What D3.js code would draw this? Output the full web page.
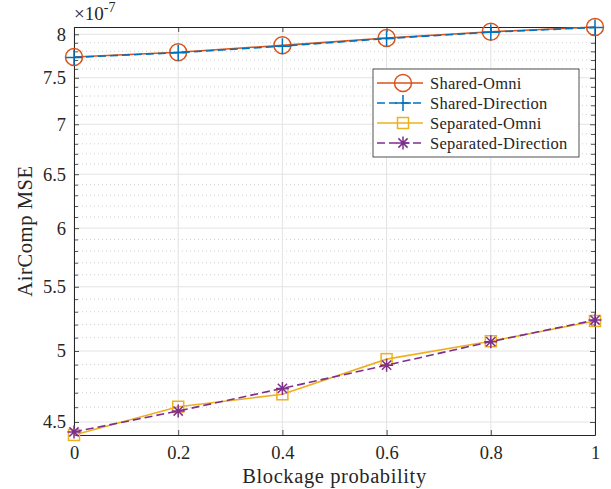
<!DOCTYPE html>
<html>
<head>
<meta charset="utf-8">
<script src="https://cdn.jsdelivr.net/npm/d3@7"></script>
<style>
  body { margin: 0; background: #fff; }
  svg text { font-family: "Liberation Serif", "Times New Roman", serif; fill: #262626; }
</style>
</head>
<body>
<svg id="chart" width="611" height="489"></svg>
<script>
// blockage probability
var probs = [0, 0.2, 0.4, 0.6, 0.8, 1];
// AirComp MSE, in units of 1e-7
var sharedOmni = [7.735, 7.79, 7.87, 7.956, 8.03, 8.087];
var sharedDirection = [7.73, 7.785, 7.86, 7.95, 8.025, 8.082];
var separatedOmni = [4.414, 4.603, 4.689, 4.94, 5.073, 5.228];
var separatedDirection = [4.434, 4.574, 4.73, 4.896, 5.07, 5.235];
var xTicks = [0, 0.2, 0.4, 0.6, 0.8, 1];
var yTicks = [4.5, 5, 5.5, 6, 6.5, 7, 7.5, 8];

var series = [
    {name: "Shared-Omni", values: sharedOmni, color: "#D95319", dash: null, marker: "circle"},
    {name: "Shared-Direction", values: sharedDirection, color: "#0072BD", dash: "8,4", marker: "plus"},
    {name: "Separated-Omni", values: separatedOmni, color: "#EDB120", dash: null, marker: "square"},
    {name: "Separated-Direction", values: separatedDirection, color: "#7E2F8E", dash: "8,4", marker: "star"}
];

var margin = {left: 74, right: 16, top: 27, bottom: 54};
var svg = d3.select("#chart");
var W = +svg.attr("width"), H = +svg.attr("height");
var w = W - margin.left - margin.right, h = H - margin.top - margin.bottom;

var all = [].concat(sharedOmni, sharedDirection, separatedOmni, separatedDirection);
var x = d3.scaleLinear().domain([0, 1]).range([0, w]);
var y = d3.scaleLog().domain(d3.extent(all)).range([h, 0]);

var g = svg.append("g").attr("transform", "translate(" + margin.left + "," + margin.top + ")");

// minor ticks every 0.1 between majors
var minor = d3.range(44, 81).map(function(v) { return v / 10; })
    .filter(function(v) {
        return v >= y.domain()[0] && v <= y.domain()[1] && yTicks.indexOf(v) < 0;
    });

// grid
g.selectAll(".mgrid").data(minor).enter().append("line")
    .attr("x1", 0).attr("x2", w)
    .attr("y1", function(d) { return y(d); }).attr("y2", function(d) { return y(d); })
    .attr("stroke", "#c4c4c4").attr("stroke-width", 0.8).attr("stroke-dasharray", "1,3");
g.selectAll(".ygrid").data(yTicks).enter().append("line")
    .attr("x1", 0).attr("x2", w)
    .attr("y1", function(d) { return y(d); }).attr("y2", function(d) { return y(d); })
    .attr("stroke", "#e3e3e3").attr("stroke-width", 1);
g.selectAll(".xgrid").data(xTicks).enter().append("line")
    .attr("y1", 0).attr("y2", h)
    .attr("x1", function(d) { return x(d); }).attr("x2", function(d) { return x(d); })
    .attr("stroke", "#e3e3e3").attr("stroke-width", 1);

// axes
var axisColor = "#262626";
var fmt = function(d) { return String(d); };
var xb = g.append("g").attr("transform", "translate(0," + h + ")")
    .call(d3.axisBottom(x).tickValues(xTicks).tickFormat(fmt).tickSizeInner(-5).tickSizeOuter(0).tickPadding(11));
var xt = g.append("g")
    .call(d3.axisTop(x).tickValues(xTicks).tickFormat("").tickSizeInner(-5).tickSizeOuter(0));
var yl = g.append("g")
    .call(d3.axisLeft(y).tickValues(yTicks).tickFormat(fmt).tickSizeInner(-5).tickSizeOuter(0).tickPadding(8));
var yr = g.append("g").attr("transform", "translate(" + w + ",0)")
    .call(d3.axisRight(y).tickValues(yTicks).tickFormat("").tickSizeInner(-5).tickSizeOuter(0));
var ylm = g.append("g")
    .call(d3.axisLeft(y).tickValues(minor).tickFormat("").tickSizeInner(-4).tickSizeOuter(0));
var yrm = g.append("g").attr("transform", "translate(" + w + ",0)")
    .call(d3.axisRight(y).tickValues(minor).tickFormat("").tickSizeInner(-4).tickSizeOuter(0));

[xb, xt, yl, yr, ylm, yrm].forEach(function(a) {
    a.select(".domain").attr("stroke", axisColor).attr("stroke-width", 1);
    a.selectAll(".tick line").attr("stroke", axisColor).attr("stroke-width", 0.8);
    a.selectAll("text").attr("fill", axisColor).style("font-size", "18.5px")
        .style("font-family", "'Liberation Serif', serif");
});
ylm.select(".domain").remove();
yrm.select(".domain").remove();

// series lines
var line = d3.line()
    .x(function(d, i) { return x(probs[i]); })
    .y(function(d) { return y(d); });

function drawMarker(sel, type, color) {
    if (type === "circle") {
        sel.append("circle").attr("r", 8.5).attr("fill", "none")
            .attr("stroke", color).attr("stroke-width", 1.5);
    } else if (type === "plus") {
        sel.append("path").attr("d", "M-8,0H8M0,-8V8").attr("fill", "none")
            .attr("stroke", color).attr("stroke-width", 1.5);
    } else if (type === "square") {
        sel.append("rect").attr("x", -5.5).attr("y", -5.5).attr("width", 11).attr("height", 11)
            .attr("fill", "none").attr("stroke", color).attr("stroke-width", 1.5);
    } else if (type === "star") {
        sel.append("path")
            .attr("d", "M-6.5,0H6.5M0,-6.5V6.5M-4.6,-4.6L4.6,4.6M-4.6,4.6L4.6,-4.6")
            .attr("fill", "none").attr("stroke", color).attr("stroke-width", 1.5);
    }
}

series.forEach(function(s) {
    g.append("path").datum(s.values)
        .attr("d", line).attr("fill", "none")
        .attr("stroke", s.color).attr("stroke-width", 1.6)
        .attr("stroke-dasharray", s.dash);
    s.values.forEach(function(v, i) {
        var m = g.append("g").attr("transform", "translate(" + x(probs[i]) + "," + y(v) + ")");
        drawMarker(m, s.marker, s.color);
    });
});

// exponent label
var ex = svg.append("text").attr("x", margin.left).attr("y", 20).style("font-size", "19px");
ex.append("tspan").text("\u00d710");
ex.append("tspan").attr("dy", -8).style("font-size", "14px").text("-7");

// axis labels
svg.append("text")
    .attr("x", margin.left + w / 2).attr("y", H - 6)
    .attr("text-anchor", "middle").style("font-size", "20.5px").style("letter-spacing", "0.6px")
    .text("Blockage probability");
svg.append("text")
    .attr("transform", "translate(32," + (margin.top + h / 2) + ") rotate(-90)")
    .attr("text-anchor", "middle").style("font-size", "20.5px").style("letter-spacing", "0.6px")
    .text("AirComp MSE");

// legend
var lg = svg.append("g").attr("transform", "translate(373,69)");
lg.append("rect").attr("width", 206).attr("height", 88)
    .attr("fill", "#fff").attr("stroke", axisColor).attr("stroke-width", 0.8);
series.forEach(function(s, i) {
    var row = lg.append("g").attr("transform", "translate(0," + (14 + i * 20) + ")");
    row.append("line").attr("x1", 4).attr("x2", 50).attr("y1", 0).attr("y2", 0)
        .attr("stroke", s.color).attr("stroke-width", 1.6).attr("stroke-dasharray", s.dash);
    drawMarker(row.append("g").attr("transform", "translate(30,0)"), s.marker, s.color);
    row.append("text").attr("x", 57).attr("y", 5.5).style("font-size", "16.5px")
        .style("letter-spacing", "0.25px").text(s.name);
});
</script>
</body>
</html>
